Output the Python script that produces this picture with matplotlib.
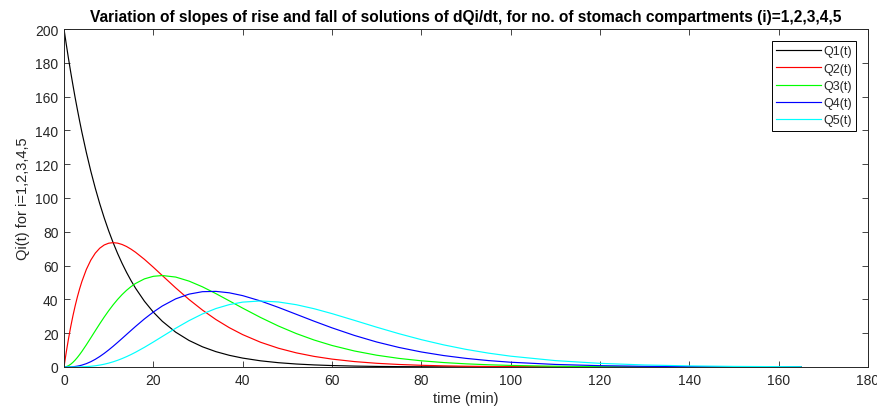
import matplotlib
matplotlib.use("Agg")
import matplotlib.pyplot as plt

# time points (min)
t = [0, 0.5, 1, 1.5, 2, 2.5, 3, 3.5, 4, 5, 6, 7, 8, 9, 10, 11, 12, 13, 14, 15, 16, 18,
     20, 22, 25, 28, 31, 34, 37, 40, 44, 48, 52, 56, 60, 65, 70, 75, 80, 85, 90, 95,
     100, 110, 120, 130, 140, 150, 165]

q1 = [200, 191.1, 182.6, 174.5, 166.8, 159.3, 152.3, 145.5, 139.0, 126.95, 115.9, 105.84,
      96.65, 88.25, 80.58, 73.58, 67.18, 61.35, 56.02, 51.15, 46.70, 38.94,
      32.47, 27.07, 20.61, 15.69, 11.95, 9.09, 6.92, 5.27, 3.66, 2.547, 1.771, 1.232,
      0.857, 0.543, 0.345, 0.219, 0.139, 0.088, 0.056, 0.035, 0.0225, 0.009, 0.0037,
      0.0015, 0.0006, 0.0002, 0.0001]
q2 = [0, 8.687, 16.60, 23.80, 30.32, 36.21, 41.52, 46.29, 50.55, 57.71, 63.23, 67.36,
      70.29, 72.20, 73.25, 73.58, 73.29, 72.50, 71.30, 69.74, 67.93, 63.72,
      59.03, 54.13, 46.83, 39.93, 33.67, 28.10, 23.28, 19.16, 14.65, 11.115, 8.374, 6.271,
      4.672, 3.211, 2.193, 1.492, 1.009, 0.6806, 0.4572, 0.3062, 0.2045, 0.0908, 0.0399,
      0.0174, 0.00756, 0.00326, 0.000918]
q3 = [0, 0.1974, 0.754, 1.623, 2.756, 4.115, 5.662, 7.365, 9.19, 13.12, 17.25, 21.43,
      25.56, 29.54, 33.30, 36.79, 39.98, 42.84, 45.37, 47.55, 49.40, 52.14,
      53.66, 54.13, 53.22, 50.82, 47.44, 43.43, 39.15, 34.84, 29.31, 24.25, 19.79, 15.96,
      12.74, 9.487, 6.978, 5.086, 3.670, 2.630, 1.870, 1.322, 0.9297, 0.454, 0.2178,
      0.1029, 0.0481, 0.0222, 0.00688]
q4 = [0, 0.003, 0.0229, 0.0738, 0.167, 0.3118, 0.515, 0.781, 1.114, 1.988, 3.136, 4.546,
      6.197, 8.056, 10.09, 12.26, 14.54, 16.88, 19.25, 21.61, 23.95, 28.44,
      32.52, 36.09, 40.32, 43.12, 44.57, 44.75, 43.90, 42.23, 39.08, 35.27, 31.19, 27.09,
      23.17, 18.69, 14.80, 11.56, 8.897, 6.774, 5.100, 3.806, 2.817, 1.513, 0.792,
      0.4054, 0.2041, 0.1011, 0.0344]
q5 = [0, 0.0, 0.0005, 0.0025, 0.0076, 0.0177, 0.035, 0.0621, 0.101, 0.2259, 0.428, 0.7232,
      1.127, 1.648, 2.293, 3.066, 3.965, 4.987, 6.125, 7.368, 8.709, 11.63,
      14.78, 18.04, 22.91, 27.44, 31.40, 34.58, 36.91, 38.39, 39.08, 38.48, 36.86, 34.48,
      31.59, 27.61, 23.55, 19.70, 16.18, 13.09, 10.43, 8.218, 6.403, 3.783, 2.160,
      1.198, 0.6494, 0.3446, 0.129]

series = [q1, q2, q3, q4, q5]
labels = ["Q1(t)", "Q2(t)", "Q3(t)", "Q4(t)", "Q5(t)"]
colors = ["#000000", "#ff0000", "#00ff00", "#0000ff", "#00ffff"]

plt.rcParams['font.family'] = ['Liberation Sans', 'DejaVu Sans']
axcol = "#262626"

fig = plt.figure(figsize=(8.78, 4.14), dpi=100)
ax = fig.add_axes([64/878, 1 - 368/414, (868-64)/878, (368-30)/414])

for y, lab, c in zip(series, labels, colors):
    ax.plot(t, y, color=c, lw=0.85, label=lab)

ax.set_xlim(0, 180)
ax.set_ylim(0, 200)
ax.set_xticks(range(0, 181, 20))
ax.set_yticks(range(0, 201, 20))
ax.tick_params(direction='in', length=4, width=0.6, top=True, right=True,
               labelsize=10, colors=axcol, pad=4)
for sp in ax.spines.values():
    sp.set_color(axcol)
    sp.set_linewidth(0.7)

ax.set_xlabel("time (min)", fontsize=10.5, color=axcol, labelpad=3)
ax.set_ylabel("Qi(t) for i=1,2,3,4,5", fontsize=10.5, color=axcol, labelpad=4)
ax.set_title("Variation of slopes of rise and fall of solutions of dQi/dt, for no. of stomach compartments (i)=1,2,3,4,5",
             fontsize=11.2, fontweight='bold', color='#000000', pad=6)

leg = ax.legend(loc='upper right', bbox_to_anchor=(1 - 12/804, 1 - 12/338),
                borderaxespad=0, fontsize=9, frameon=True, fancybox=False,
                handlelength=3.6, handletextpad=0.15, labelspacing=0.42,
                borderpad=0.35, framealpha=1)
leg.get_frame().set_edgecolor('#000000')
leg.get_frame().set_linewidth(0.7)
for txt in leg.get_texts():
    txt.set_color(axcol)

fig.savefig("out.png", dpi=100)
